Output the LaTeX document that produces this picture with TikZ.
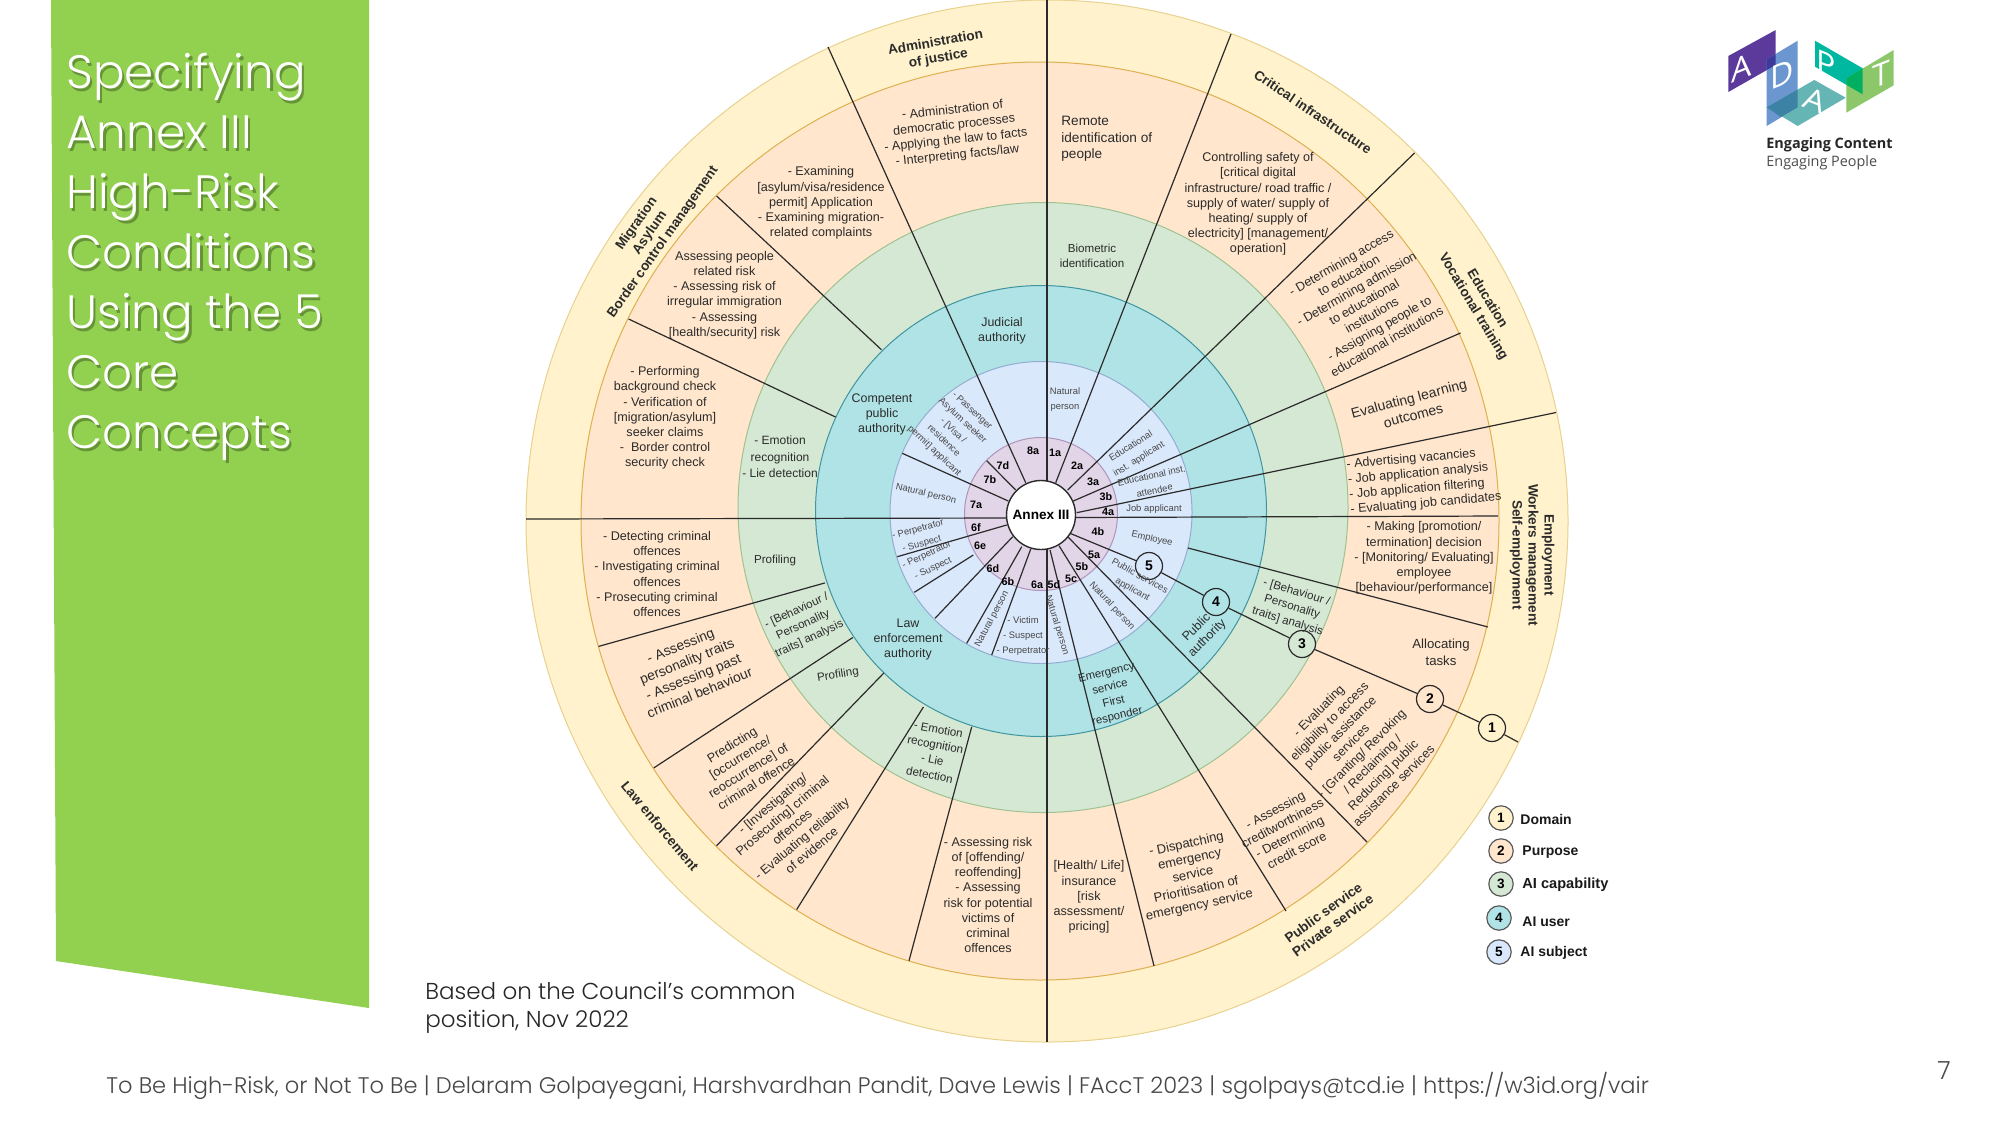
\documentclass[tikz,border=0pt]{standalone}
\usepackage{fontspec}
\setmainfont{Liberation Sans}
\newfontfamily\geo{Poppins Light}
\newfontfamily\logof{Open Sans}
\definecolor{yel}{HTML}{FFF2CC}\definecolor{yelS}{HTML}{E8D28F}
\definecolor{pea}{HTML}{FFE6CC}\definecolor{peaS}{HTML}{DDB050}
\definecolor{gre}{HTML}{D5E8D4}\definecolor{greS}{HTML}{A0C292}
\definecolor{tea}{HTML}{B0E3E6}\definecolor{teaS}{HTML}{3F95A0}
\definecolor{blu}{HTML}{DAE8FC}\definecolor{bluS}{HTML}{93ADD0}
\definecolor{pin}{HTML}{E1D5E7}\definecolor{pinS}{HTML}{AE94BC}
\definecolor{panel}{HTML}{92D050}
\definecolor{ink}{HTML}{2B2B2B}
\tikzset{
  ring/.style={line width=0.5pt},
  spk/.style={draw=ink,line width=0.6pt},
  dom/.style={inner sep=0pt,align=center,text=ink,font=\fontsize{6.8}{8}\selectfont\bfseries},
  purp/.style={inner sep=0pt,align=center,text=ink,font=\fontsize{6.3}{7.6}\selectfont},
  capab/.style={inner sep=0pt,align=center,text=ink,font=\fontsize{5.8}{7.7}\selectfont},
  usr/.style={inner sep=0pt,align=center,text=ink,font=\fontsize{6.2}{7.5}\selectfont},
  subj/.style={inner sep=0pt,align=center,text=black!72,font=\fontsize{4.7}{7.5}\selectfont},
  cod/.style={inner sep=0pt,text=black,font=\fontsize{5.4}{6}\selectfont\bfseries},
  num/.style={circle,draw=ink,line width=0.6pt,minimum size=13.5pt,inner sep=0pt,text=black,font=\fontsize{7}{8}\selectfont\bfseries},
  leg/.style={circle,draw=black!65,line width=0.6pt,minimum size=12.2pt,inner sep=0pt,text=black,font=\fontsize{6.8}{8}\selectfont\bfseries},
  legt/.style={anchor=west,inner sep=0pt,text=black!90,font=\fontsize{7}{8}\selectfont\bfseries},
  logol/.style={inner sep=0pt,text=white,font=\logof\fontsize{16}{16}\selectfont},
}
\newcommand{\spoke}[5]{\coordinate (#1a) at (#2,#3);\coordinate (#1b) at (#4,#5);\draw[spk] (#1a) -- (#1b);}
\begin{document}
\begin{tikzpicture}[x=0.5pt,y=-0.5pt]
\useasboundingbox (0,0) rectangle (2000,1125);
\fill[white] (0,0) rectangle (2000,1125);
% left panel
\fill[panel] (51,0) -- (369,0) -- (369,1008) -- (56,961) -- cycle;
\node (titleshade) [anchor=north west,inner sep=0pt,align=left,text=panel!70!black,font=\geo\fontsize{23.4}{30}\selectfont] at (68.5,55.5) {Specifying\\Annex III\\High-Risk\\Conditions\\Using the 5\\Core\\Concepts};
\node (title) [anchor=north west,inner sep=0pt,align=left,text=white,font=\geo\fontsize{23.4}{30}\selectfont] at (66,53) {Specifying\\Annex III\\High-Risk\\Conditions\\Using the 5\\Core\\Concepts};
% discs
\draw[ring,fill=yel,draw=yelS] (1047,521) circle [radius=521];
\draw[ring,fill=pea,draw=peaS] (1040,521) circle [radius=459];
\draw[ring,fill=gre,draw=greS] (1043,507.5) circle [radius=305];
\draw[ring,fill=tea,draw=teaS] (1041,511) circle [radius=225.5];
\draw[ring,fill=blu,draw=bluS] (1041,512.5) circle [radius=151];
\draw[ring,fill=pin,draw=pinS] (1041,514) circle [radius=76.5];
% spokes
\spoke{top}{1047}{0}{1047}{482}
\spoke{bot}{1047}{549}{1047}{1042}
\spoke{left}{526}{519}{1007}{518}
\spoke{right}{1498}{516}{1075}{517.5}
\spoke{sa}{1231}{34}{1055.7}{482.7}
\spoke{sb}{1414.5}{153}{1067.7}{490}
\spoke{sc}{1460.5}{333}{1073.3}{501}
\spoke{sd}{1556}{412.5}{1076.7}{512.7}
\spoke{se}{1188}{548}{1488}{627}
\spoke{sg}{1367}{842}{1068}{537}
\spoke{sh}{1286}{911}{1059}{545.7}
\spoke{si}{1154}{966}{1050}{550}
\spoke{ja}{1030.7}{549}{991.7}{655}
\spoke{jb}{971.7}{726.8}{909}{960.7}
\spoke{ka}{1021.7}{546.7}{966.7}{643.3}
\spoke{kb}{923.4}{707}{796.6}{909.6}
\spoke{la}{1012.7}{536.7}{935}{618.3}
\spoke{lb}{883.8}{673}{716.6}{845.7}
\spoke{ma}{973.3}{555}{914.3}{592.3}
\spoke{mb}{852.8}{637.5}{653.8}{767.9}
\spoke{na}{1006.7}{525}{897.3}{556.7}
\spoke{nb}{825}{582.9}{598.6}{646.4}
\spoke{oa}{1008.3}{501}{902.3}{453.3}
\spoke{ob}{835.5}{417}{628.6}{319}
\spoke{pa}{1015.7}{490}{986.7}{460.7}
\spoke{pb}{881.4}{349.7}{716.6}{196}
\spoke{qa}{1025.7}{482.7}{828}{47}
% centre
\node (annex) [circle,draw=ink,line width=0.7pt,fill=white,minimum size=34.5pt,inner sep=0pt,font=\fontsize{6.8}{8}\selectfont\bfseries] at (1041,515) {Annex III};
% numbered chain
\coordinate (chainstart) at (1070,533.3);
\coordinate (chainend) at (1518,742);
\node (c5) [num,fill=blu] at (1149,566) {5};
\node (c4) [num,fill=tea] at (1216,602) {4};
\node (c3) [num,fill=gre] at (1302,644) {3};
\node (c2) [num,fill=pea] at (1430,699) {2};
\node (c1) [num,fill=yel] at (1492,728) {1};
\draw[spk] (chainstart) -- (c5) -- (c4) -- (c3) -- (c2) -- (c1) -- (chainend);
% domain
\node (d1) [dom,rotate=10] at (937,51) {Administration\\of justice};
\node (d2) [dom,rotate=-34] at (1313,112) {Critical infrastructure};
\node (d3) [dom,rotate=-59] at (1480,303) {Education\\Vocational training};
\node (d4) [dom,rotate=-90] at (1532,555) {Employment\\Workers management\\Self-employment};
\node (d5) [dom,rotate=36] at (1328,919) {Public service\\Private service};
\node (d6) [dom,rotate=-50] at (660,826) {Law enforcement};
\node (d7) [dom,rotate=55] at (650,233) {Migration\\Asylum\\Border control management};
% purpose
\node (p1) [purp,anchor=west,align=left,font=\fontsize{6.8}{8.3}\selectfont] at (1061,139) {Remote\\identification of\\people};
\node (p2) [purp] at (1258,204) {Controlling safety of\\{}[critical digital\\infrastructure/ road traffic /\\supply of water/ supply of\\heating/ supply of\\electricity] [management/\\operation]};
\node (p3) [purp,rotate=30] at (1364,302) {- Determining access\\to education\\- Determining admission\\to educational\\institutions\\- Assigning people to\\educational institutions};
\node (p4) [purp,rotate=15,font=\fontsize{7}{8.6}\selectfont] at (1411,407) {Evaluating learning\\outcomes};
\node (p5) [purp,rotate=5,align=left] at (1424,481) {- Advertising vacancies\\- Job application analysis\\- Job application filtering\\- Evaluating job candidates};
\node (p6) [purp] at (1424,558) {- Making [promotion/\\termination] decision\\- [Monitoring/ Evaluating]\\employee\\{}[behaviour/performance]};
\node (p7) [purp,font=\fontsize{6.6}{8.3}\selectfont] at (1441,652) {Allocating\\tasks};
\node (p8) [purp,rotate=45] at (1356,748) {- Evaluating\\eligibility to access\\public assistance\\services\\- [Granting/ Revoking\\/ Reclaiming /\\Reducing] public\\assistance services};
\node (p9) [purp,rotate=28] at (1286,830) {- Assessing\\creditworthiness\\- Determining\\credit score};
\node (p10) [purp,rotate=12,font=\fontsize{6.5}{7.8}\selectfont] at (1193,875) {- Dispatching\\emergency\\service\\Prioritisation of\\emergency service};
\node (p11) [purp] at (1089,897) {[Health/ Life]\\insurance\\{}[risk\\assessment/\\pricing]};
\node (p12) [purp] at (988,895) {- Assessing risk\\of [offending/\\reoffending]\\- Assessing\\risk for potential\\victims of\\criminal\\offences};
\node (p13) [purp,rotate=40] at (792,827) {- [Investigating/\\Prosecuting] criminal\\offences\\- Evaluating reliability\\of evidence};
\node (p14) [purp,rotate=32] at (744,764) {Predicting\\{}[occurrence/\\reoccurrence] of\\criminal offence};
\node (p15) [purp,rotate=22,font=\fontsize{6.9}{8.5}\selectfont] at (690,669) {- Assessing\\personality traits\\- Assessing past\\criminal behaviour};
\node (p16) [purp] at (657,574) {- Detecting criminal\\offences\\- Investigating criminal\\offences\\- Prosecuting criminal\\offences};
\node (p17) [purp] at (665,418) {- Performing\\background check\\- Verification of\\{}[migration/asylum]\\seeker claims\\-\ \ Border control\\security check};
\node (p18) [purp] at (724.5,295) {Assessing people\\related risk\\- Assessing risk of\\irregular immigration\\- Assessing\\{}[health/security] risk};
\node (p19) [purp] at (821,203) {- Examining\\{}[asylum/visa/residence\\permit] Application\\- Examining migration-\\related complaints};
\node (p20) [purp,rotate=6] at (955,133) {- Administration of\\democratic processes\\- Applying the law to facts\\- Interpreting facts/law};
% capability
\node (a1) [capab] at (1092,256) {Biometric\\identification};
\node (a2) [capab,font=\fontsize{6}{8.2}\selectfont] at (780,457) {- Emotion\\recognition\\- Lie detection};
\node (a3) [capab] at (775,560) {Profiling};
\node (a4) [capab,rotate=25] at (803,625) {- [Behaviour /\\Personality\\traits] analysis};
\node (a5) [capab,rotate=9] at (838,675) {Profiling};
\node (a6) [capab,rotate=-11] at (934,752) {- Emotion\\recognition\\- Lie\\detection};
\node (a7) [capab,rotate=-17] at (1292,607) {- [Behaviour /\\Personality\\traits] analysis};
% user
\node (u1) [usr] at (1002,331) {Judicial\\authority};
\node (u2) [usr] at (882,414) {Competent\\public\\authority};
\node (u3) [usr] at (908,640) {Law\\enforcement\\authority};
\node (u4) [usr,rotate=45] at (1202,633) {Public\\authority};
\node (u5) [usr,rotate=14,font=\fontsize{5.7}{7.5}\selectfont] at (1112,695) {Emergency\\service\\First\\responder};
% subject
\node (b1) [subj] at (1065,400) {Natural\\person};
\node (b2) [subj,rotate=32] at (1135,453) {Educational\\inst. applicant};
\node (b3) [subj,rotate=12] at (1153,483) {Educational inst.\\attendee};
\node (b4) [subj] at (1154,509) {Job applicant};
\node (b5) [subj,rotate=-13] at (1152,539) {Employee};
\node (b6) [subj,rotate=-29] at (1136,583) {Public services\\applicant};
\node (b7) [subj,rotate=-47] at (1112,606) {Natural person};
\node (b8) [subj,rotate=-73] at (1057,625) {Natural person};
\node (b9) [subj] at (1023,636) {- Victim\\- Suspect\\- Perpetrator};
\node (b10) [subj,rotate=62] at (992,619) {Natural person};
\node (b11) [subj,rotate=25] at (930,562) {- Perpetrator\\- Suspect};
\node (b12) [subj,rotate=15] at (920,537) {- Perpetrator\\- Suspect};
\node (b13) [subj,rotate=-13] at (926,494) {Natural person};
\node (b14) [subj,rotate=-43,font=\fontsize{4.7}{6.9}\selectfont] at (953,431) {- Passenger\\Asylum seeker\\- [Visa /\\residence\\permit] applicant};
% codes
\node (k8a) [cod] at (1033,451) {8a};
\node (k1a) [cod] at (1055,453) {1a};
\node (k2a) [cod] at (1077,466) {2a};
\node (k3a) [cod] at (1093,482) {3a};
\node (k3b) [cod] at (1106,497) {3b};
\node (k4a) [cod] at (1108,512) {4a};
\node (k4b) [cod] at (1098,532) {4b};
\node (k5a) [cod] at (1094,555) {5a};
\node (k5b) [cod] at (1082,567) {5b};
\node (k5c) [cod] at (1071,579) {5c};
\node (k5d) [cod] at (1054,585) {5d};
\node (k6a) [cod] at (1037,585) {6a};
\node (k6b) [cod] at (1008,582) {6b};
\node (k6d) [cod] at (993,569) {6d};
\node (k6e) [cod] at (980,546) {6e};
\node (k6f) [cod] at (976,528) {6f};
\node (k7a) [cod] at (976,505) {7a};
\node (k7b) [cod] at (990,480) {7b};
\node (k7d) [cod] at (1003,466) {7d};
% legend
\node (l1) [leg,fill=yel] at (1501,818) {1};
\node (l2) [leg,fill=pea] at (1501,851) {2};
\node (l3) [leg,fill=gre] at (1501,884) {3};
\node (l4) [leg,fill=tea] at (1499,918) {4};
\node (l5) [leg,fill=blu] at (1499,952) {5};
\node (lt1) [legt] at (1520,819) {Domain};
\node (lt2) [legt] at (1522,852) {Purpose};
\node (lt3) [legt,font=\fontsize{7.3}{8}\selectfont\bfseries] at (1522,885) {AI capability};
\node (lt4) [legt] at (1522,922) {AI user};
\node (lt5) [legt] at (1520,953) {AI subject};
% notes
\node (note) [anchor=north west,inner sep=0pt,align=left,text=black!85,font=\geo\fontsize{11.5}{14}\selectfont] at (425,982) {Based on the Council’s common\\position, Nov 2022};
\node (foot) [anchor=west,inner sep=0pt,text=black!72,font=\geo\fontsize{11.27}{13}\selectfont] at (106,1086) {To Be High-Risk, or Not To Be | Delaram Golpayegani, Harshvardhan Pandit, Dave Lewis | FAccT 2023 | sgolpays@tcd.ie | https://w3id.org/vair};
\node (page) [inner sep=0pt,text=black!70,font=\geo\fontsize{12.5}{14}\selectfont] at (1944,1071) {7};
% logo
\fill[fill={rgb,255:red,91;green,58;blue,155}] (1728.3,56) -- (1775.7,30) -- (1775.7,65) -- (1728.3,92) -- cycle;
\fill[fill={rgb,255:red,108;green,150;blue,208}] (1766.7,59.3) -- (1797.7,40.7) -- (1797.7,107.3) -- (1766.7,126) -- cycle;
\fill[fill={rgb,255:red,60;green,58;blue,155}] (1766.7,59.3) -- (1775.7,54) -- (1775.7,65) -- (1766.7,70) -- cycle;
\fill[fill={rgb,255:red,102;green,181;blue,181}] (1766.7,107.3) -- (1814.3,80) -- (1845.7,97.7) -- (1797.7,126) -- cycle;
\fill[fill={rgb,255:red,60;green,130;blue,164}] (1766.7,107.3) -- (1797.7,89.5) -- (1797.7,107.3) -- (1781,117) -- cycle;
\fill[fill={rgb,255:red,0;green,184;blue,160}] (1815,40.7) -- (1862.7,68.3) -- (1862.7,94.3) -- (1815,66.7) -- cycle;
\fill[fill={rgb,255:red,140;green,199;blue,106}] (1846.3,78.3) -- (1893.7,50) -- (1893.7,85.3) -- (1846.3,112.7) -- cycle;
\fill[fill={rgb,255:red,0;green,176;blue,96}] (1846.3,78.3) -- (1862.7,68.3) -- (1862.7,94.3) -- (1846.3,84.8) -- cycle;
\node (la1) [logol,yslant=0.4] at (1742,68) {A};
\node (la2) [logol,yslant=0.4] at (1782,74) {D};
\node (la3) [logol,yslant=-0.4,xslant=0.3] at (1815,100) {A};
\node (la4) [logol,yslant=-0.4] at (1826,64) {P};
\node (la5) [logol,yslant=0.4] at (1881,75) {T};
\node (lg1) [anchor=west,inner sep=0pt,text=black!85,font=\logof\fontsize{7.2}{8}\selectfont\bfseries] at (1766,145) {Engaging Content};
\node (lg2) [anchor=west,inner sep=0pt,text=black!70,font=\logof\fontsize{7.2}{8}\selectfont] at (1766,163) {Engaging People};
\end{tikzpicture}
\end{document}
